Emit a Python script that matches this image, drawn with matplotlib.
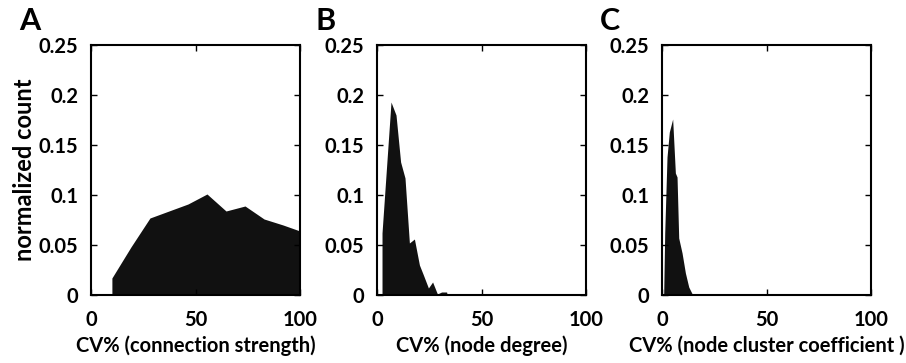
import numpy as np
import matplotlib.pyplot as plt

# CV% distributions (normalized counts)
cv_strength = [10, 19.1, 28.2, 37.3, 46.4, 55.5, 64.6, 73.7, 82.8, 91.9, 100]
cnt_strength = [0.017, 0.048, 0.077, 0.084, 0.091, 0.101, 0.084, 0.089, 0.076, 0.070, 0.064]

cv_degree = [2.4, 6.7, 9.1, 11.3, 13.4, 15.5, 17.9, 20.3, 22.2, 24.6, 26.6, 28.9, 30.9, 33.3, 33.6]
cnt_degree = [0.062, 0.193, 0.180, 0.133, 0.117, 0.052, 0.056, 0.030, 0.020, 0.007, 0.013, 0.001, 0.003, 0.003, 0.0]

cv_cluster = [0.8, 1.3, 2.4, 3.5, 5.1, 6.4, 7.2, 8.0, 9.6, 11.2, 12.8, 14.7]
cnt_cluster = [0.0, 0.062, 0.138, 0.163, 0.176, 0.122, 0.118, 0.057, 0.042, 0.022, 0.008, 0.0]

panels = [
    ("A", cv_strength, cnt_strength, "CV% (connection strength)"),
    ("B", cv_degree, cnt_degree, "CV% (node degree)"),
    ("C", cv_cluster, cnt_cluster, "CV% (node cluster coefficient )"),
]

plt.rcParams['font.family'] = ['Lato', 'DejaVu Sans']

fig = plt.figure(figsize=(9.06, 3.63), dpi=100)
W, H = 906.0, 363.0
lefts = [91, 377, 662]
letter_x = [19, 315, 600]
for i, (letter, x, y, xlabel) in enumerate(panels):
    ax = fig.add_axes([lefts[i] / W, (H - 295) / H, 209 / W, 250 / H])
    xs = np.array(x)
    ys = np.array(y)
    # vertical left edge
    xs = np.concatenate([[xs[0]], xs])
    ys = np.concatenate([[0.0], ys])
    ax.fill_between(xs, 0, ys, color='#111111', linewidth=0)
    ax.set_xlim(0, 100)
    ax.set_ylim(0, 0.25)
    ax.set_xticks([0, 50, 100])
    ax.set_xticklabels(['0', '50', '100'])
    ax.set_yticks([0, 0.05, 0.1, 0.15, 0.2, 0.25])
    ax.set_yticklabels(['0', '0.05', '0.1', '0.15', '0.2', '0.25'])
    ax.tick_params(direction='in', length=4, width=1, top=True, right=True,
                   labelsize=14.5)
    ax.tick_params(axis='x', pad=11)
    ax.tick_params(axis='y', pad=9)
    for lab in ax.get_xticklabels() + ax.get_yticklabels():
        lab.set_fontweight('bold')
    for s in ax.spines.values():
        s.set_linewidth(1.5)
    ax.set_xlabel(xlabel, fontsize=14.5, fontweight='bold', labelpad=4)
    if i == 0:
        ax.set_ylabel('normalized count', fontsize=17, fontweight='bold', labelpad=2)
    fig.text(letter_x[i] / W, 1 - 30 / H, letter, fontsize=22, fontweight='bold',
             va='baseline', ha='left')

fig.savefig('out.png', dpi=100)
